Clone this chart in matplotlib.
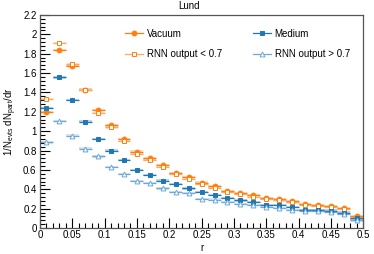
import numpy as np
import matplotlib
matplotlib.use("Agg")
import matplotlib.pyplot as plt
from matplotlib.ticker import MultipleLocator

plt.rcParams['font.family'] = ['Liberation Sans', 'DejaVu Sans']
plt.rcParams['mathtext.fontset'] = 'custom'
plt.rcParams['mathtext.rm'] = 'Liberation Sans'

r = [0.01, 0.03, 0.05, 0.07, 0.09, 0.11, 0.13, 0.15, 0.17, 0.19, 0.21, 0.23, 0.25,
     0.27, 0.29, 0.31, 0.33, 0.35, 0.37, 0.39, 0.41, 0.43, 0.45, 0.47, 0.49]
vacuum = [1.20, 1.84, 1.67, 1.43, 1.22, 1.06, 0.92, 0.79, 0.72, 0.65, 0.565, 0.53, 0.47,
          0.43, 0.385, 0.365, 0.34, 0.31, 0.30, 0.275, 0.25, 0.24, 0.23, 0.21, 0.125]
rnn_low = [1.33, 1.91, 1.69, 1.43, 1.19, 1.04, 0.90, 0.77, 0.70, 0.63, 0.555, 0.51, 0.46,
           0.415, 0.375, 0.35, 0.325, 0.30, 0.285, 0.265, 0.24, 0.23, 0.22, 0.20, 0.115]
medium = [1.24, 1.556, 1.32, 1.10, 0.92, 0.80, 0.70, 0.60, 0.55, 0.49, 0.455, 0.41, 0.37,
          0.34, 0.31, 0.285, 0.27, 0.24, 0.235, 0.215, 0.19, 0.19, 0.18, 0.16, 0.10]
rnn_high = [0.885, 1.105, 0.955, 0.82, 0.74, 0.63, 0.555, 0.485, 0.465, 0.41, 0.375, 0.36, 0.30,
            0.295, 0.27, 0.25, 0.235, 0.215, 0.205, 0.19, 0.18, 0.18, 0.17, 0.15, 0.08]
half_width = 0.01

orange = "#ff7f0e"
blue = "#1f77b4"
light_orange = "#ffa860"
light_blue = "#6fa8d6"

fig = plt.figure(figsize=(3.74, 2.54), dpi=100)
ax = fig.add_axes([0.107, 0.102, 0.864, 0.839])

def draw(vals, color, ecolor, marker, filled, label, ms):
    ax.errorbar(r, vals, xerr=half_width, fmt='none', ecolor=ecolor, elinewidth=0.9, zorder=2)
    for xi, yi in zip(r, vals):
        ax.add_patch(plt.Rectangle((xi - half_width, yi - 0.012), 2 * half_width, 0.024,
                                   facecolor=ecolor, alpha=0.3, edgecolor='none', zorder=1))
    ax.plot(r, vals, linestyle='none', marker=marker, ms=ms,
            markerfacecolor=color if filled else 'white',
            markeredgecolor=color, markeredgewidth=0.7, zorder=3)
    h, = ax.plot([], [], color=ecolor, lw=0.9, marker=marker, ms=ms,
                 markerfacecolor=color if filled else 'white',
                 markeredgecolor=color, markeredgewidth=0.7, label=label)
    return h

h1 = draw(vacuum, orange, orange, 'o', True, "Vacuum", 3.5)
h2 = draw(rnn_low, orange, light_orange, 's', False, "RNN output < 0.7", 3.3)
h3 = draw(medium, blue, blue, 's', True, "Medium", 3.3)
h4 = draw(rnn_high, light_blue, light_blue, '^', False, "RNN output > 0.7", 3.5)

ax.set_xlim(0, 0.5)
ax.set_ylim(0, 2.2)
ax.xaxis.set_major_locator(MultipleLocator(0.05))
ax.xaxis.set_minor_locator(MultipleLocator(0.01))
ax.yaxis.set_major_locator(MultipleLocator(0.2))
ax.yaxis.set_minor_locator(MultipleLocator(0.04))
ax.xaxis.set_major_formatter(plt.FuncFormatter(lambda v, p: f"{v:g}"))
ax.yaxis.set_major_formatter(plt.FuncFormatter(lambda v, p: f"{v:g}"))
ax.tick_params(which='both', direction='in', labelsize=7, top=False, right=False)
ax.tick_params(which='major', length=7, width=0.8)
ax.tick_params(which='minor', length=3.5, width=0.8)
ax.tick_params(axis='x', which='major', pad=1.5)
ax.tick_params(axis='y', which='major', pad=2.5)
for s in ax.spines.values():
    s.set_color('#555555')
    s.set_linewidth(0.9)

ax.set_xlabel("r", fontsize=7, va='center')
ax.set_ylabel(r"1/N$_{\rm evts}$ dN$_{\rm part}$/dr", fontsize=7, va='center')
ax.xaxis.set_label_coords(0.5, -0.092)
ax.yaxis.set_label_coords(-0.09, 0.5)
fig.text(0.505, 0.975, "Lund", ha='center', va='center', fontsize=7)

leg = ax.legend(handles=[h1, h2, h3, h4], ncol=2, loc='upper left',
                bbox_to_anchor=(0.262, 0.935), frameon=False, fontsize=7,
                borderpad=0, borderaxespad=0,
                handlelength=1.9, columnspacing=3.2, labelspacing=1.05, handletextpad=0.35)

fig.savefig("out.png", dpi=100)
